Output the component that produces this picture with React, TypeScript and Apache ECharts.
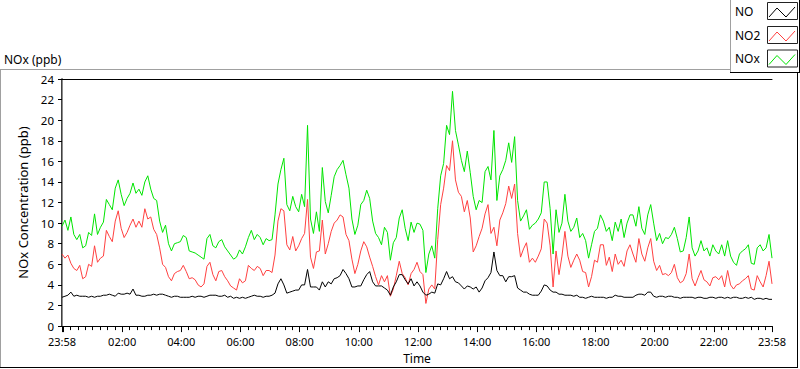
import React, { useEffect, useRef } from "react";
import * as echarts from "echarts";

// minutes between samples, counted from 23:58
const STEP_MIN = 6;

const NOX = [
  9.7, 10.3, 9.3, 10.6, 8.9, 8.4, 8.9, 7.6, 7.8, 9.1, 8.8, 10.9, 8.9, 9.6, 10.1, 12.3, 11.8, 11.3, 13.4, 14.2,
  12.8, 11.7, 12.4, 12.9, 13.9, 12.9, 13.3, 12.7, 14.0, 14.6, 13.3, 12.4, 12.2, 10.2, 9.1, 9.8, 8.0, 7.3, 8.0, 8.1, 8.2,
  8.8, 8.6, 7.3, 7.2, 7.1, 6.9, 6.7, 6.5, 8.5, 8.9, 7.8, 7.6, 8.2, 8.4, 7.7, 7.3, 6.9, 6.5, 6.7, 7.4,
  7.0, 7.7, 8.6, 9.3, 8.4, 8.9, 8.6, 7.9, 8.5, 8.3, 8.4, 10.8, 13.8, 15.2, 16.3, 11.8, 11.2, 12.6, 11.6, 11.1,
  12.8, 11.6, 19.5, 10.4, 9.0, 11.1, 9.2, 15.4, 12.1, 11.0, 12.7, 14.5, 15.2, 15.6, 16.1, 14.7, 13.4, 10.4, 8.9, 9.8,
  11.8, 12.2, 13.2, 12.4, 10.2, 9.0, 8.6, 7.9, 9.6, 9.1, 6.4, 8.1, 8.6, 10.5, 11.3, 9.5, 8.3, 10.1, 9.1, 10.0, 9.9,
  9.3, 5.2, 7.0, 7.8, 6.6, 11.4, 14.6, 15.8, 19.5, 18.6, 22.8, 19.0, 17.6, 16.1, 15.0, 17.0, 14.9, 12.6, 11.3, 12.2,
  12.0, 15.0, 15.5, 14.2, 19.0, 12.2, 14.6, 15.2, 16.1, 17.8, 15.9, 18.4, 12.2, 10.2, 10.7, 11.3, 9.4, 9.8, 10.0, 10.4, 11.0,
  14.0, 14.0, 11.4, 7.0, 11.3, 9.1, 10.0, 12.8, 10.2, 9.2, 9.6, 10.5, 8.6, 9.0, 8.3, 6.6, 7.9, 9.2, 9.5, 10.8,
  10.2, 9.2, 9.6, 8.3, 10.1, 9.2, 10.4, 8.6, 10.0, 10.8, 10.8, 9.7, 11.6, 9.5, 8.9, 10.8, 11.8, 10.0, 8.3, 9.0,
  8.0, 8.6, 8.5, 8.9, 9.6, 8.5, 7.2, 7.3, 8.6, 10.6, 7.6, 6.8, 7.3, 8.3, 7.3, 7.6, 6.8, 7.9, 7.3, 7.0,
  7.9, 6.8, 8.3, 6.8, 6.2, 5.9, 7.0, 7.3, 7.5, 7.9, 6.1, 6.0, 7.6, 7.9, 7.3, 7.6, 8.9, 6.6,
];

const NO2 = [
  7.0, 6.6, 6.9, 6.1, 5.6, 5.4, 5.9, 4.6, 4.8, 6.0, 5.8, 7.8, 6.2, 6.6, 6.8, 9.3, 8.7, 8.2, 10.2, 11.2,
  9.5, 8.6, 9.1, 9.8, 10.4, 9.6, 10.2, 9.6, 11.4, 10.4, 10.6, 9.4, 8.9, 7.6, 6.0, 5.7, 4.8, 4.4, 5.1, 5.3, 5.4,
  5.9, 5.3, 4.6, 4.7, 4.5, 4.0, 3.8, 4.1, 5.8, 6.2, 5.0, 4.4, 5.3, 5.4, 4.8, 4.4, 3.9, 3.7, 3.5, 4.6,
  4.2, 4.4, 5.9, 5.6, 5.4, 5.8, 5.6, 4.9, 5.4, 5.4, 5.2, 6.9, 10.2, 11.4, 11.2, 7.9, 7.4, 8.7, 7.3, 7.8,
  8.5, 9.0, 12.3, 6.7, 5.6, 7.2, 7.3, 10.3, 7.0, 8.0, 9.2, 10.0, 10.3, 10.8, 10.6, 8.9, 8.3, 6.5, 5.1, 6.0,
  7.3, 8.2, 7.7, 6.7, 5.8, 4.8, 4.0, 4.9, 4.3, 4.9, 2.9, 3.6, 4.9, 6.3, 5.1, 4.7, 4.0, 5.1, 5.5, 6.2, 5.3,
  5.0, 2.2, 3.6, 4.0, 3.6, 8.4, 11.8, 13.4, 15.6, 15.1, 18.0, 14.2, 13.0, 12.6, 11.1, 12.2, 10.5, 7.2, 7.8, 8.7,
  9.5, 10.9, 11.8, 9.0, 9.6, 7.8, 10.3, 11.0, 11.9, 13.6, 12.4, 13.8, 9.0, 6.7, 7.5, 8.1, 6.2, 6.6, 6.2, 6.8, 7.5,
  10.4, 10.0, 7.8, 3.8, 7.3, 5.0, 6.8, 9.2, 6.8, 5.7, 6.4, 7.0, 6.4, 5.3, 5.2, 3.8, 4.8, 6.4, 6.2, 7.9,
  7.9, 5.9, 6.7, 5.3, 7.0, 6.0, 6.4, 5.8, 7.3, 7.9, 7.0, 6.2, 8.5, 7.0, 6.3, 7.6, 8.5, 6.3, 5.4, 5.9,
  5.0, 5.1, 4.9, 5.2, 6.0, 4.7, 4.2, 4.4, 5.1, 7.0, 4.6, 3.9, 4.7, 5.4, 4.5, 4.3, 3.9, 4.7, 4.8, 4.5,
  4.9, 3.8, 5.4, 4.0, 3.6, 4.0, 4.1, 4.4, 4.6, 4.9, 3.6, 3.5, 4.9, 4.3, 3.8, 4.9, 6.3, 4.1,
];

const NO = [
  2.8, 2.9, 3.0, 3.3, 2.9, 3.0, 2.9, 2.9, 2.9, 2.8, 2.9, 2.8, 2.9, 2.9, 3.0, 3.0, 3.1, 3.0, 2.9, 3.2,
  3.1, 3.1, 3.2, 3.1, 3.6, 3.0, 3.0, 2.9, 2.9, 3.0, 3.0, 3.1, 3.0, 3.1, 3.1, 3.0, 2.9, 2.8, 2.9, 2.9, 2.8,
  2.8, 2.8, 2.8, 2.9, 2.8, 2.9, 2.9, 2.8, 2.9, 3.0, 3.0, 3.0, 2.9, 2.9, 3.0, 2.8, 2.9, 2.7, 2.8, 2.7,
  2.8, 2.7, 2.8, 2.9, 3.0, 2.9, 2.9, 2.8, 2.9, 2.9, 3.0, 3.2, 4.1, 4.6, 4.0, 3.2, 3.3, 3.4, 3.5, 3.5,
  4.0, 4.0, 5.5, 3.8, 3.8, 3.8, 3.5, 4.3, 3.8, 4.3, 4.1, 4.6, 4.7, 4.9, 5.5, 5.1, 4.6, 3.8, 3.8, 3.9,
  3.9, 4.5, 5.0, 5.3, 4.3, 3.9, 3.9, 3.9, 3.7, 3.5, 3.0, 3.8, 4.3, 5.0, 5.0, 4.5, 4.1, 4.6, 3.9, 4.3, 3.9,
  3.3, 3.0, 3.1, 3.3, 3.2, 4.1, 4.0, 4.6, 5.3, 4.6, 4.8, 4.3, 4.2, 3.9, 3.6, 3.9, 3.8, 3.6, 3.8, 3.3,
  3.7, 4.4, 4.7, 5.2, 7.2, 5.4, 4.9, 4.9, 4.3, 4.8, 4.8, 4.9, 3.7, 3.5, 3.3, 3.3, 3.1, 3.0, 3.0, 3.0, 3.4,
  4.0, 3.9, 3.5, 3.3, 3.3, 3.1, 3.1, 3.0, 3.0, 3.0, 2.9, 3.0, 2.8, 2.8, 2.7, 2.8, 2.9, 2.8, 2.8, 2.8,
  2.8, 2.7, 2.8, 2.8, 3.0, 2.9, 2.9, 2.8, 2.8, 2.8, 2.8, 3.0, 3.1, 3.1, 3.0, 3.3, 3.3, 2.9, 2.8, 2.9,
  2.9, 2.8, 2.9, 2.9, 2.8, 2.8, 2.7, 2.8, 2.8, 2.8, 2.8, 2.7, 2.8, 2.8, 2.7, 2.7, 2.8, 2.8, 2.7, 2.8,
  2.8, 2.7, 2.8, 2.7, 2.8, 2.8, 2.7, 2.7, 2.8, 2.7, 2.8, 2.6, 2.7, 2.7, 2.6, 2.7, 2.6, 2.6,
];

// x labels, in minutes since 23:58 (start) ... 23:58 (end)
const X_LABEL_MINUTES = [0, 122, 242, 362, 482, 602, 722, 842, 962, 1082, 1202, 1322, 1440];
const X_MAJOR_TICKS = [0, 2, 122, 242, 362, 482, 602, 722, 842, 962, 1082, 1202, 1322, 1440];

const LEGEND = [
  { name: "NO", color: "#000000" },
  { name: "NO2", color: "#ff4040" },
  { name: "NOx", color: "#00e400" },
];

const FONT = '"Noto Sans", "DejaVu Sans", sans-serif';

function clock(m: number): string {
  const c = (((1438 + Math.round(m)) % 1440) + 1440) % 1440;
  const hh = Math.floor(c / 60);
  const mm = c % 60;
  return String(hh).padStart(2, "0") + ":" + String(mm).padStart(2, "0");
}

export default function App() {
  const ref = useRef<HTMLDivElement>(null);

  useEffect(() => {
    if (!ref.current) return;
    const chart = echarts.init(ref.current, null, { renderer: "svg" });
    const pairs = (arr: number[]) => arr.map((v, i) => [i * STEP_MIN, v]);
    const minor: number[] = [];
    for (let m = 2; m < 1440; m += 15) minor.push(m);

    const legendGraphics: any[] = [];
    const rowCY = [11, 35, 58.5];
    LEGEND.forEach((l, k) => {
      const cy = rowCY[k];
      legendGraphics.push({
        type: "text",
        x: 735,
        y: cy,
        style: { text: l.name, font: `12px ${FONT}`, fill: "#000", textVerticalAlign: "middle" },
      });
      legendGraphics.push({
        type: "rect",
        shape: { x: 767.5, y: cy - 8.5, width: 30, height: 17 },
        style: { fill: "#fff", stroke: "#222", lineWidth: 1 },
      });
      legendGraphics.push({
        type: "polyline",
        shape: { points: [[769, cy + 6], [777, cy - 3], [786, cy + 6], [795, cy - 4]] },
        style: { stroke: l.color, lineWidth: 1, fill: null },
      });
    });

    const frameLine = (x1: number, y1: number, x2: number, y2: number, c: string) => ({
      type: "line",
      shape: { x1, y1, x2, y2 },
      style: { stroke: c, lineWidth: 1 },
      silent: true,
    });

    chart.setOption({
      animation: false,
      backgroundColor: "#ffffff",
      textStyle: { fontFamily: FONT },
      grid: { left: 62, top: 79, right: 28, bottom: 39, containLabel: false },
      xAxis: [
        {
          type: "value",
          min: 0,
          max: 1440,
          position: "bottom",
          name: "Time",
          nameLocation: "middle",
          nameGap: 25,
          nameTextStyle: { fontSize: 12, color: "#000", fontFamily: FONT },
          axisLine: { show: true, lineStyle: { color: "#000", width: 1 } },
          axisTick: { show: true, length: 6, customValues: X_MAJOR_TICKS, lineStyle: { color: "#000" } },
          axisLabel: {
            show: true,
            customValues: X_LABEL_MINUTES,
            formatter: (v: number) => clock(v),
            fontSize: 11,
            color: "#000",
            margin: 10,
            fontFamily: FONT,
          },
          splitLine: { show: false },
        },
        {
          type: "value",
          min: 0,
          max: 1440,
          position: "bottom",
          axisLine: { show: false },
          axisTick: { show: true, length: 4, customValues: minor, lineStyle: { color: "#000" } },
          axisLabel: { show: false },
          splitLine: { show: false },
        },
        {
          type: "value",
          min: 0,
          max: 1440,
          position: "top",
          axisLine: { show: true, lineStyle: { color: "#000", width: 1 } },
          axisTick: { show: false },
          axisLabel: { show: false },
          splitLine: { show: false },
        },
      ],
      yAxis: [
        {
          type: "value",
          min: 0,
          max: 24,
          interval: 2,
          position: "left",
          name: "NOx Concentration (ppb)",
          nameLocation: "middle",
          nameGap: 23,
          nameTextStyle: { fontSize: 13, color: "#000", fontFamily: FONT },
          axisLine: { show: true, lineStyle: { color: "#000", width: 1.5 } },
          axisTick: { show: true, length: 4, lineStyle: { color: "#000" } },
          axisLabel: { fontSize: 11.5, color: "#000", margin: 8, fontFamily: FONT },
          splitLine: { show: false },
        },
        {
          type: "value",
          min: 0,
          max: 24,
          interval: 2,
          position: "right",
          axisLine: { show: true, lineStyle: { color: "#8c8c8c", width: 1 } },
          axisTick: { show: false },
          axisLabel: { show: false },
          splitLine: { show: false },
        },
      ],
      series: [
        {
          name: "NO",
          type: "line",
          data: pairs(NO),
          showSymbol: false,
          symbol: "none",
          lineStyle: { color: LEGEND[0].color, width: 1 },
          itemStyle: { color: LEGEND[0].color },
          xAxisIndex: 0,
          yAxisIndex: 0,
          z: 3,
        },
        {
          name: "NO2",
          type: "line",
          data: pairs(NO2),
          showSymbol: false,
          symbol: "none",
          lineStyle: { color: LEGEND[1].color, width: 1 },
          itemStyle: { color: LEGEND[1].color },
          xAxisIndex: 0,
          yAxisIndex: 0,
          z: 2,
        },
        {
          name: "NOx",
          type: "line",
          data: pairs(NOX),
          showSymbol: false,
          symbol: "none",
          lineStyle: { color: LEGEND[2].color, width: 1 },
          itemStyle: { color: LEGEND[2].color },
          xAxisIndex: 0,
          yAxisIndex: 0,
          z: 1,
        },
      ],
      graphic: [
        frameLine(0, 69.5, 730, 69.5, "#a0a0a0"),
        frameLine(0.5, 69, 0.5, 368, "#a0a0a0"),
        frameLine(0, 367.5, 798, 367.5, "#000"),
        frameLine(797.5, 72, 797.5, 368, "#000"),
        frameLine(730.5, 0, 730.5, 72, "#a0a0a0"),
        frameLine(730, 72.5, 800, 72.5, "#000"),
        frameLine(799.5, 0, 799.5, 73, "#000"),
        {
          type: "text",
          x: 4,
          y: 59.5,
          style: { text: "NOx (ppb)", font: `12px ${FONT}`, fill: "#000", textVerticalAlign: "middle" },
        },
        ...legendGraphics,
      ],
    });

    return () => chart.dispose();
  }, []);

  return (
    <div
      ref={ref}
      style={{ position: "fixed", left: 0, top: 0, width: 800, height: 369, background: "#fff" }}
    />
  );
}
